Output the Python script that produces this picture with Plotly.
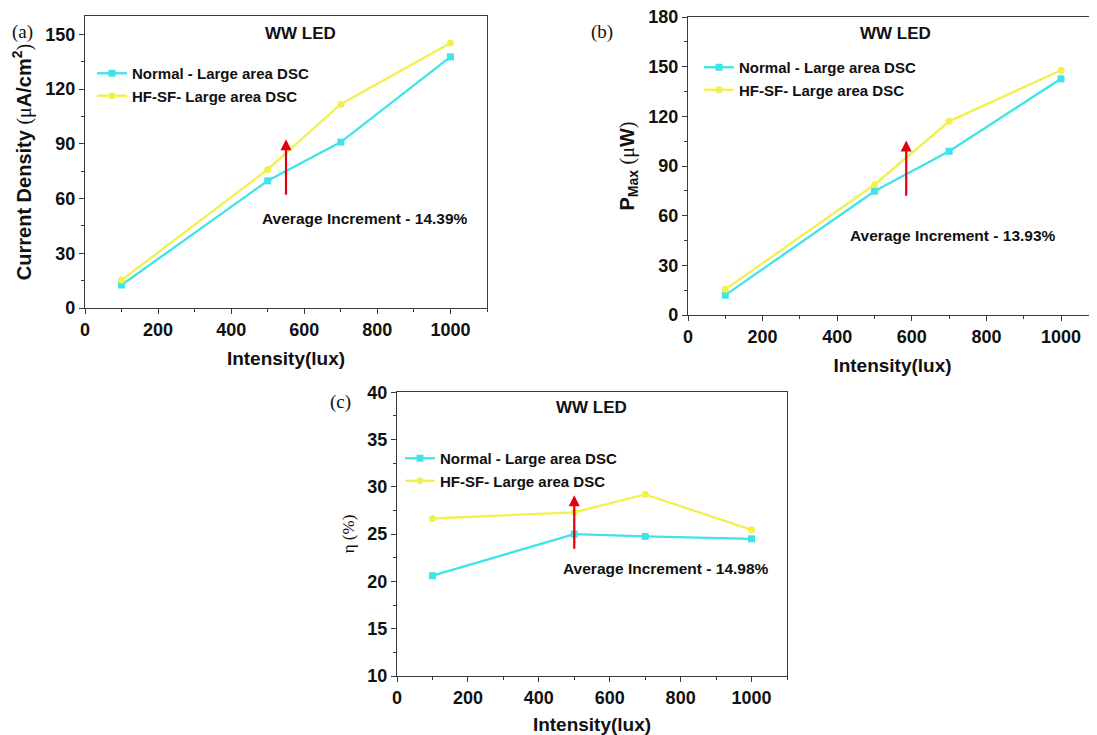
import plotly.graph_objects as go

intensity = [100, 500, 700, 1000]
jsc_normal = [12.6, 69.7, 90.9, 137.6]
jsc_hfsf = [15.3, 75.9, 111.7, 145.2]
pmax_normal = [12.0, 74.8, 98.9, 142.7]
pmax_hfsf = [15.5, 78.7, 117.0, 147.9]
eff_normal = [20.6, 25.0, 24.75, 24.5]
eff_hfsf = [26.65, 27.3, 29.2, 25.45]
names = ["Normal - Large area DSC", "HF-SF- Large area DSC"]
increments = ["Average Increment - 14.39%", "Average Increment - 13.93%", "Average Increment - 14.98%"]

CYAN = "#3FE3E8"
YELLOW = "#F3F04C"
RED = "#E00010"
AX = "#3a3a3a"
SANS = "Liberation Sans, Arial, sans-serif"
SERIF = "Liberation Serif, Times New Roman, serif"

# page body has an 8px margin: the figure is drawn from (8, 8)
OFF = 8
W, H = 1097 - OFF, 735 - OFF
def fx(p):
    return (p - OFF) / W
def fy(p):
    return 1 - (p - OFF) / H

fig = go.Figure()

panels = [
    dict(xa="x", ya="y", leg="legend", normal=jsc_normal, hfsf=jsc_hfsf),
    dict(xa="x2", ya="y2", leg="legend2", normal=pmax_normal, hfsf=pmax_hfsf),
    dict(xa="x3", ya="y3", leg="legend3", normal=eff_normal, hfsf=eff_hfsf),
]
for p in panels:
    fig.add_trace(go.Scatter(x=intensity, y=p["normal"], name=names[0], mode="lines+markers",
                             line=dict(color=CYAN, width=2.3), marker=dict(symbol="square", size=7, color=CYAN),
                             xaxis=p["xa"], yaxis=p["ya"], legend=p["leg"]))
    fig.add_trace(go.Scatter(x=intensity, y=p["hfsf"], name=names[1], mode="lines+markers",
                             line=dict(color=YELLOW, width=2.3), marker=dict(symbol="circle", size=7, color=YELLOW),
                             xaxis=p["xa"], yaxis=p["ya"], legend=p["leg"]))

tickfont = dict(family=SANS, size=18, color="#111", weight="bold")
titlefont = dict(family=SANS, size=19, color="#111", weight="bold")

def xaxis(domain, anchor, rng):
    return dict(domain=domain, anchor=anchor, range=rng, dtick=200, tick0=0, automargin=False,
                ticks="outside", ticklen=5, tickwidth=1.3, tickcolor=AX, ticklabeloverflow="allow",
                minor=dict(dtick=100, ticks="outside", ticklen=3, tickcolor=AX),
                showline=True, linecolor=AX, linewidth=1.4, mirror=True,
                showgrid=False, zeroline=False, tickfont=tickfont,
                title=dict(text="<b>Intensity(lux)</b>", font=titlefont, standoff=12))

def yaxis(domain, anchor, rng, dtick, minor, title, mirror=True, tfont=None, standoff=8):
    return dict(domain=domain, anchor=anchor, range=rng, dtick=dtick, tick0=0, automargin=False,
                ticks="outside", ticklen=5, tickwidth=1.3, tickcolor=AX, ticklabeloverflow="allow",
                minor=dict(dtick=minor, ticks="outside", ticklen=3, tickcolor=AX),
                showline=True, linecolor=AX, linewidth=1.4, mirror=mirror,
                showgrid=False, zeroline=False, tickfont=tickfont,
                title=dict(text=title, font=tfont or dict(family=SANS, size=20, color="#111", weight="bold"),
                           standoff=standoff))

ytitle_a = ("<b>Current Density </b><span style='font-family:Liberation Serif;font-weight:normal'>(μ</span>"
            "<b>A/cm<sup>2</sup></b><span style='font-family:Liberation Serif;font-weight:normal'>)</span>")
ytitle_b = ("<b>P</b><sub><b>Max</b></sub> <span style='font-family:Liberation Serif;font-weight:normal'>(μ</span>"
            "<b>W</b><span style='font-family:Liberation Serif;font-weight:normal'>)</span>")
ytitle_c = "η (%)"

fig.update_layout(
    width=W, height=H, paper_bgcolor="white", plot_bgcolor="white",
    margin=dict(l=0, r=0, t=0, b=0, autoexpand=False), showlegend=True,
    xaxis=xaxis([fx(85), fx(487)], "y", [0, 1100]),
    yaxis=yaxis([fy(308), fy(16)], "x", [0, 160], 30, 15, ytitle_a),
    xaxis2=xaxis([fx(688), 1.0], "y2", [0, 1096.5]),
    yaxis2=yaxis([fy(315), fy(17)], "x2", [0, 180.05], 30, 15, ytitle_b, mirror=False),
    xaxis3=xaxis([fx(397), fx(787)], "y3", [0, 1100]),
    yaxis3=yaxis([fy(676), fy(392)], "x3", [10, 40.02], 5, 2.5, ytitle_c,
                 tfont=dict(family=SERIF, size=17, color="#111")),
)

legfont = dict(family=SANS, size=15, color="#111", weight="bold")
def legend(xp, yp):
    return dict(x=fx(xp), y=fy(yp), xanchor="left", yanchor="top", bgcolor="rgba(0,0,0,0)",
                font=legfont, tracegroupgap=0, itemwidth=30, borderwidth=0)
fig.update_layout(legend=legend(92, 57), legend2=legend(699, 51), legend3=legend(400, 442))

annots = []
# panel labels
for txt, xp, yp in [("(a)", 22, 32), ("(b)", 602, 32), ("(c)", 340, 402)]:
    annots.append(dict(text=txt, xref="paper", yref="paper", x=fx(xp), y=fy(yp), showarrow=False,
                       font=dict(family=SERIF, size=19, color="#111"), xanchor="center", yanchor="middle"))
# titles
for xr, yr, xv, yv in [("x", "y", 589, 150.5), ("x2", "y2", 555, 170), ("x3", "y3", 549, 38.4)]:
    annots.append(dict(text="<b>WW LED</b>", xref=xr, yref=yr, x=xv, y=yv, showarrow=False,
                       font=dict(family=SANS, size=17, color="#111")))
# increment texts
for (xr, yr, xv, yv), txt in zip([("x", "y", 479, 49), ("x2", "y2", 429, 48.2), ("x3", "y3", 462, 21.4)], increments):
    annots.append(dict(text="<b>" + txt + "</b>", xref=xr, yref=yr, x=xv, y=yv, showarrow=False,
                       xanchor="left", font=dict(family=SANS, size=15.5, color="#111")))
# arrows
for xr, yr, xv, y0, y1 in [("x", "y", 550, 61.3, 92.5), ("x2", "y2", 585, 71.2, 105.4), ("x3", "y3", 500, 23.3, 29.1)]:
    annots.append(dict(x=xv, y=y1, ax=xv, ay=y0, xref=xr, yref=yr, axref=xr, ayref=yr, text="",
                       showarrow=True, arrowhead=2, arrowsize=1.0, arrowwidth=2.2, arrowcolor=RED))
fig.update_layout(annotations=annots)

fig.write_html("out.html")
